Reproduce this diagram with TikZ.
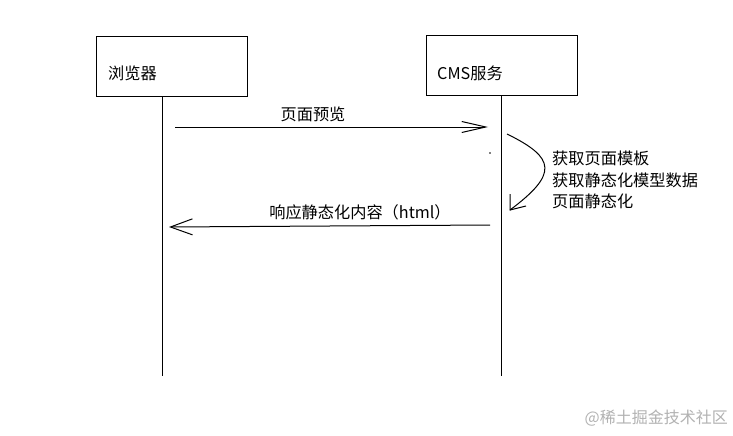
\documentclass[tikz,border=0pt]{standalone}
\usepackage{fontspec}
\newfontfamily\cjk{Noto Sans CJK SC}
\usetikzlibrary{arrows.meta}
\begin{document}
\begin{tikzpicture}[x=1pt,y=-1pt,
  box/.style={draw=black,line width=1pt,minimum width=151pt,minimum height=59pt,inner sep=0pt},
  lbl/.style={font=\cjk\fontsize{16.2}{18}\selectfont,inner sep=0pt,text=black},
  life/.style={draw=black,line width=1pt},
  msg/.style={draw=black,line width=1pt},
  wmark/.style={font=\cjk\fontsize{16}{18}\selectfont,inner sep=0pt,text=black!30}]
\useasboundingbox[fill=white] (0,0) rectangle (733,436);
% boxes
\node[box] (box1) at (171.5,66.5) {};
\node[box] (box2) at (502,65.5) {};
\node[lbl,anchor=west] (t1) at (108,73) {浏览器};
\node[lbl,anchor=west] (t2) at (437,73) {CMS服务};
% lifelines
\coordinate (l1top) at (162,96);
\coordinate (l1bot) at (162,376);
\coordinate (l2top) at (501,95);
\coordinate (l2bot) at (501,376);
\draw[life] (l1top) -- (l1bot);
\draw[life] (l2top) -- (l2bot);
% message 1
\coordinate (m1s) at (175,127);
\coordinate (m1e) at (488,127);
\draw[msg,-{Straight Barb[length=24pt,width=11pt]}] (m1s) -- (m1e);
\node[lbl] (m1l) at (313,114) {页面预览};
% stray dot
\fill (490,153) circle (0.8);
% self loop
\coordinate (ls) at (507,134);
\coordinate (le) at (510,210);
\coordinate (lh1) at (510,194);
\coordinate (lh2) at (526,206);
\draw[msg] (ls) .. controls (556,158) and (558,174) .. (le);
\draw[msg] (lh1) -- (le) -- (lh2);
\node[lbl,anchor=west] (s1) at (552,158) {获取页面模板};
\node[lbl,anchor=west] (s2) at (552,180) {获取静态化模型数据};
\node[lbl,anchor=west] (s3) at (552,201) {页面静态化};
% message 2
\coordinate (m2s) at (490,225);
\coordinate (m2e) at (169,227);
\draw[msg,-{Straight Barb[length=22pt,width=16pt]}] (m2s) -- (m2e);
\node[lbl] (m2l) at (360,212) {响应静态化内容（html）};
% watermark
\node[wmark,anchor=east] (wm) at (728,418) {@稀土掘金技术社区};
\end{tikzpicture}
\end{document}
